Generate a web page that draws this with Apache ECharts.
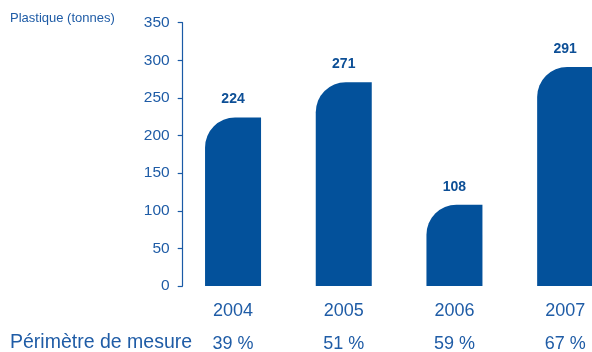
<!DOCTYPE html>
<html>
<head>
<meta charset="utf-8">
<script src="https://cdn.jsdelivr.net/npm/echarts@6/dist/echarts.min.js"></script>
<style>
html,body{margin:0;padding:0;background:#fff;}
#chart{width:592px;height:352px;}
</style>
</head>
<body>
<div id="chart"></div>
<script>
var years = ['2004', '2005', '2006', '2007'];
var plastique = [224, 271, 108, 291];
var perimetre = ['39 %', '51 %', '59 %', '67 %'];
var yTicks = [0, 50, 100, 150, 200, 250, 300, 350];
var yTitle = 'Plastique (tonnes)';
var rowTitle = 'Périmètre de mesure';

var FONT = '"Liberation Sans", Arial, Helvetica, sans-serif';
var BAR = '#03519b';
var TXT = '#1f5ca6';

var chart = echarts.init(document.getElementById('chart'), null, {renderer: 'canvas'});
chart.setOption({
  animation: false,
  backgroundColor: '#ffffff',
  textStyle: {fontFamily: FONT},
  grid: {left: 177.7, width: 442.8, top: 22.7, height: 263.3, containLabel: false, outerBoundsMode: 'none'},
  graphic: [
    {type: 'text', left: 10, top: 12, style: {text: yTitle, font: '13px ' + FONT, fill: TXT}},
    {type: 'text', left: 10, top: 333, style: {text: rowTitle, font: '19.5px ' + FONT, fill: TXT}}
  ],
  xAxis: [
    {
      type: 'category', data: years, position: 'bottom',
      axisLine: {show: false}, axisTick: {show: false},
      axisLabel: {color: TXT, fontSize: 18, fontFamily: FONT, margin: 16}
    },
    {
      type: 'category', data: perimetre, position: 'bottom', offset: 34,
      axisLine: {show: false}, axisTick: {show: false},
      axisLabel: {color: TXT, fontSize: 18, fontFamily: FONT, margin: 15}
    }
  ],
  yAxis: {
    type: 'value', min: yTicks[0], max: yTicks[yTicks.length - 1], interval: 50,
    offset: -5,
    axisLine: {show: true, lineStyle: {color: '#1a5aa6', width: 1.2}},
    axisTick: {show: true, length: 5, lineStyle: {color: '#1a5aa6', width: 1.2}},
    splitLine: {show: false},
    axisLabel: {color: TXT, fontSize: 15.5, fontFamily: FONT, margin: 13}
  },
  series: [{
    type: 'bar', xAxisIndex: 0, data: plastique, barWidth: 56,
    itemStyle: {color: BAR, borderRadius: [30, 0, 0, 0]},
    label: {show: true, position: 'top', distance: 11, color: '#0d4f96',
            fontWeight: 'bold', fontSize: 14, fontFamily: FONT}
  }]
});
</script>
</body>
</html>
